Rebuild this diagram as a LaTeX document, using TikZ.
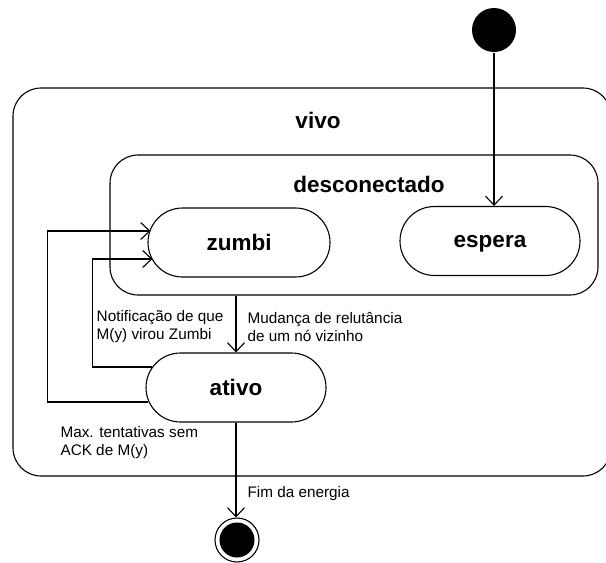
\documentclass[tikz,border=0pt]{standalone}
\usepackage{fontspec}
\setmainfont{Liberation Sans}
\usetikzlibrary{
	arrows.meta, % for the open arrow heads
	positioning,
	shapes.misc % rounded rectangle
	}

\begin{document}
\begin{tikzpicture}[
                x=1pt,y=-1pt,
                line width=1.1pt,
                estado/.style={rounded rectangle,draw,minimum width=180pt,minimum height=69pt,inner sep=0pt,font=\fontsize{22.5}{26}\selectfont\bfseries},
                composto/.style={rectangle,draw,rounded corners=28pt,inner sep=0pt},
                titulo/.style={anchor=base,font=\fontsize{22.5}{26}\selectfont\bfseries},
                rotulo/.style={align=left,inner sep=0pt,font=\fontsize{15.3}{18}\selectfont},
                trans/.style={-{Straight Barb[length=9pt,width=17pt]}},
                inicial/.style={circle,fill=black,minimum size=44pt,inner sep=0pt},
                final/.style={circle,draw,minimum size=44pt,inner sep=0pt,
                    path picture={\fill (path picture bounding box.center) circle (17.5pt);}},
            ]
                \useasboundingbox (0,0) rectangle (606,563);

                %% Composite states
                \node[composto,minimum width=598pt,minimum height=388pt] (vivo) at (312,282) {};
                \node[titulo] (tvivo) at (318,128) {vivo};
                \node[composto,minimum width=488pt,minimum height=140pt] (desc) at (354,225) {};
                \node[titulo] (tdesc) at (369,192) {desconectado};

                % Simple states
                \node[estado,minimum width=182pt] (zumbi) at (239,242.5) {zumbi};
                \node[estado,text depth=0pt] (espera) at (490,241) {espera};
                \node[estado] (ativo) at (236,387.5) {ativo};

                % Pseudo states
                \node[inicial] (inicio) at (494,30) {};
                \node[final] (fim) at (237,540) {};

                %% Transitions
                \draw[trans] (inicio) -- (inicio |- espera.north);
                \draw[trans] (ativo.north |- desc.south) --
                    node[rotulo,right=11pt,yshift=-3pt] (lmud) {Mudança de relutância\\de um nó vizinho}
                    node[rotulo,left=12pt,yshift=-3pt] (lnot) {Notificação de que\\M(y) virou Zumbi}
                    (ativo.north);
                % the two loops back to zumbi
                \draw[trans] ([xshift=7pt,yshift=20.5pt]ativo.west) -- ++(-60pt,0)
                    |- ([xshift=5pt,yshift=-16.5pt]zumbi.west);
                \draw[trans] ([xshift=3pt,yshift=-14.5pt]ativo.west) -- ++(-101pt,0)
                    |- ([xshift=3pt,yshift=11.5pt]zumbi.west);
                \node[rotulo,anchor=north west] (lmax) at (60,426) {Max. tentativas sem\\ACK de M(y)};

                \draw[trans] (ativo.south) --
                    node[rotulo,pos=0.75,right=11pt] (lfim) {Fim da energia}
                    (ativo.south |- fim.north);

            \end{tikzpicture}
\end{document}
